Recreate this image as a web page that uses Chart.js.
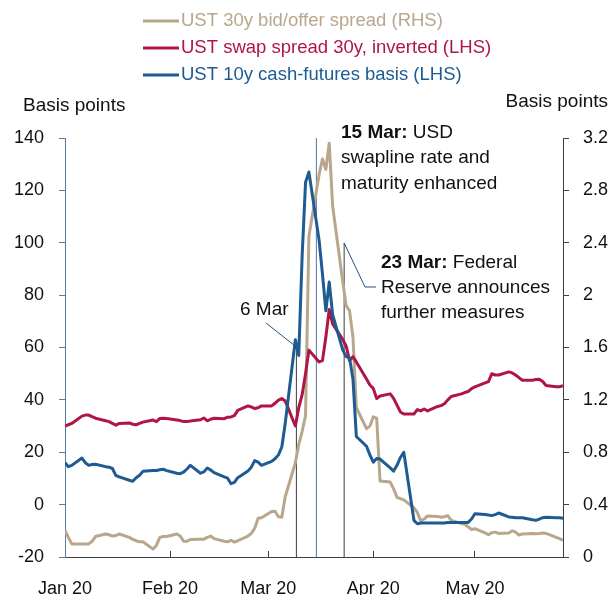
<!DOCTYPE html>
<html>
<head>
<meta charset="utf-8">
<script src="https://cdn.jsdelivr.net/npm/chart.js@4.4.1/dist/chart.umd.min.js"></script>
<style>
  html, body { margin: 0; padding: 0; background: #fff; }
</style>
</head>
<body>
<canvas id="myChart" width="612" height="595"></canvas>
<script>
// day number counted from 1 Jan 2020 (business days)
const days = [
  0, 1, 2, 5, 6, 7, 8, 9, 12, 13, 14, 15, 16, 19, 20, 21, 22, 23, 26, 27, 28, 29, 30,
  33, 34, 35, 36, 37, 40, 41, 42, 43, 44, 47, 48, 49, 50, 51, 54, 55, 56, 57, 58,
  61, 62, 63, 64, 65, 68, 69, 70, 71, 72, 75, 76, 77, 78, 79, 82, 83, 84, 85, 86, 89, 90,
  91, 92, 93, 96, 97, 98, 99, 100, 103, 104, 105, 106, 107, 110, 111, 112, 113, 114, 117, 118, 119, 120,
  121, 124, 125, 126, 127, 128, 131, 132, 133, 134, 135, 138, 139, 140, 141, 142, 145, 146, 147,
];

// UST 30y bid/offer spread (RHS)
const bidOffer = [
  0.2, 0.15, 0.1, 0.1, 0.1, 0.1, 0.12, 0.156, 0.176, 0.17, 0.16, 0.164, 0.176, 0.15, 0.134, 0.124, 0.116, 0.116, 0.06, 0.09, 0.15, 0.156, 0.156,
  0.176, 0.16, 0.12, 0.12, 0.134, 0.136, 0.136, 0.15, 0.16, 0.14, 0.12, 0.116, 0.128, 0.114, 0.124, 0.16, 0.18, 0.22, 0.296, 0.3,
  0.348, 0.35, 0.308, 0.304, 0.46, 0.72, 0.86, 0.96, 1.08, 2.45, 2.92, 3.04, 2.96, 3.16, 2.68, 2.1, 1.92, 1.88, 1.68, 1.14, 0.98, 1.0,
  1.07, 1.06, 0.58, 0.572, 0.52, 0.456, 0.446, 0.436, 0.376, 0.34, 0.276, 0.29, 0.314, 0.31, 0.304, 0.308, 0.316, 0.28, 0.256, 0.25, 0.23, 0.21,
  0.216, 0.184, 0.17, 0.186, 0.19, 0.18, 0.184, 0.2, 0.19, 0.168, 0.176, 0.18, 0.178, 0.18, 0.184, 0.18, 0.15, 0.14, 0.126,
];

// UST swap spread 30y, inverted (LHS)
const swapSpread = [
  30, 30.5, 31, 33.8, 34.2, 34.2, 33.6, 33, 32, 31.7, 31, 30.3, 31, 31.2, 30.7, 30.5, 31, 31.5, 32.3, 31.7, 32.9, 33, 32.9,
  32.3, 32.1, 31.7, 31.7, 31.9, 32.4, 33.1, 32, 32.6, 33, 32.8, 33.4, 33.5, 34, 36, 37.7, 37.3, 36.7, 37, 37.7,
  37.7, 38.7, 39.9, 40.5, 39.6, 30, 37, 42, 50, 59, 54.5, 55, 64, 74.5, 69, 63, 60.5, 55, 56.5, 54.5, 48, 45.7,
  44.4, 40.5, 41.5, 42.3, 40.6, 38, 35.4, 34.6, 34.6, 36.3, 35.8, 36.5, 35.8, 37.5, 37.8, 38.5, 40, 41.3, 42.3, 42.8, 43.2, 44.3,
  45, 46.5, 47, 50, 49.5, 49.5, 50.7, 50.3, 49.5, 48.5, 47.5, 47.5, 47.8, 47.9, 47, 45.5, 45, 45, 45.4,
];

// UST 10y cash-futures basis (LHS)
const cashFutures = [
  16, 14.5, 15, 17.8, 16, 15, 15.3, 15.4, 14.5, 14.3, 13.8, 11.2, 10.6, 9.3, 8.9, 10.3, 11.2, 12.7, 13, 13, 13.3, 13.5, 13,
  12, 11.8, 12.4, 13.6, 15, 12, 12.5, 14, 13.2, 12.2, 10.6, 10.1, 8, 8.5, 10.3, 12.8, 14.3, 16.8, 16.2, 15,
  16.5, 17.5, 19, 22, 31, 63, 57, 95, 123, 127, 101, 88, 74, 85, 72.5, 59, 56.5, 56, 48, 26, 22.3, 19,
  16.2, 17.6, 17.4, 14, 12.8, 15, 18, 20, -6, -7.3, -7, -7, -7, -7, -7, -7, -6.8, -6.8, -6.8, -6.8, -6.8, -5.5,
  -3.5, -3.8, -4, -4.2, -3.8, -3.2, -4.7, -4.8, -5, -5, -5, -5.8, -6, -5.5, -5, -4.8, -5, -5, -5.2,
];

const monthTicks = [0, 31, 60, 91, 121];
const monthLabels = ["Jan 20", "Feb 20", "Mar 20", "Apr 20", "May 20"];

// 6 Mar, 15 Mar, 23 Mar event lines (day numbers as placed on the chart)
const eventDays = [68.3, 74.2, 82.4];

const font = "'Liberation Sans', Arial, sans-serif";
const tanColor = "#b9a68c";
const redColor = "#b01645";
const blueColor = "#1d5b92";

const toPoints = (vals) => vals.map((v, i) => ({ x: days[i], y: v }));

const overlay = {
  id: "overlay",
  beforeDatasetsDraw(chart) {
    const ctx = chart.ctx;
    const xs = chart.scales.x;
    const area = chart.chartArea;
    const x6 = xs.getPixelForValue(eventDays[0]);
    const x15 = xs.getPixelForValue(eventDays[1]);
    const x23 = xs.getPixelForValue(eventDays[2]);
    ctx.save();
    ctx.lineWidth = 1;
    // 6 Mar
    ctx.strokeStyle = "#3c3c3c";
    ctx.beginPath();
    ctx.moveTo(x6, 347);
    ctx.lineTo(x6, area.bottom);
    ctx.stroke();
    // 15 Mar
    ctx.strokeStyle = "#5577a0";
    ctx.beginPath();
    ctx.moveTo(x15, area.top);
    ctx.lineTo(x15, area.bottom);
    ctx.stroke();
    // 23 Mar
    ctx.strokeStyle = "#3c3c3c";
    ctx.beginPath();
    ctx.moveTo(x23, 243);
    ctx.lineTo(x23, area.bottom);
    ctx.stroke();
    ctx.restore();
  },
  afterDraw(chart) {
    const ctx = chart.ctx;
    const xs = chart.scales.x;
    const x6 = xs.getPixelForValue(eventDays[0]);
    const x23 = xs.getPixelForValue(eventDays[2]);
    ctx.save();

    // legend
    const items = [
      ["UST 30y bid/offer spread (RHS)", tanColor, 21],
      ["UST swap spread 30y, inverted (LHS)", redColor, 48],
      ["UST 10y cash-futures basis (LHS)", blueColor, 75],
    ];
    ctx.font = "18.5px " + font;
    ctx.textBaseline = "middle";
    items.forEach(([txt, col, y]) => {
      ctx.strokeStyle = col;
      ctx.lineWidth = 3;
      ctx.beginPath();
      ctx.moveTo(143, y);
      ctx.lineTo(179, y);
      ctx.stroke();
      ctx.fillStyle = col;
      ctx.fillText(txt, 181, y);
    });

    // axis titles
    ctx.fillStyle = "#111";
    ctx.font = "19px " + font;
    ctx.fillText("Basis points", 23, 106);
    ctx.textAlign = "right";
    ctx.fillText("Basis points", 608, 102);
    ctx.textAlign = "left";

    // annotations
    const mixed = (bold, rest, x, y) => {
      ctx.font = "bold 19px " + font;
      ctx.fillText(bold, x, y);
      const w = ctx.measureText(bold).width;
      ctx.font = "19px " + font;
      ctx.fillText(rest, x + w, y);
    };
    mixed("15 Mar:", " USD", 341, 133);
    ctx.fillText("swapline rate and", 341, 158);
    ctx.fillText("maturity enhanced", 341, 184);
    mixed("23 Mar:", " Federal", 381, 263);
    ctx.fillText("Reserve announces", 381, 288);
    ctx.fillText("further measures", 381, 313);
    ctx.fillText("6 Mar", 240, 310);

    // leader lines
    ctx.strokeStyle = "#24507e";
    ctx.lineWidth = 1;
    ctx.beginPath();
    ctx.moveTo(266, 323);
    ctx.lineTo(x6, 347);
    ctx.stroke();
    ctx.beginPath();
    ctx.moveTo(x23, 243);
    ctx.lineTo(365, 287);
    ctx.lineTo(376, 287);
    ctx.stroke();
    ctx.restore();
  },
};

const myChart1 = document.getElementById("myChart");

var myChart = new Chart(myChart1, {
  type: "line",
  data: {
    datasets: [
      {
        label: "UST 30y bid/offer spread (RHS)",
        data: toPoints(bidOffer),
        yAxisID: "y1",
        borderColor: tanColor,
        borderWidth: 3,
        order: 3,
      },
      {
        label: "UST swap spread 30y, inverted (LHS)",
        data: toPoints(swapSpread),
        yAxisID: "y",
        borderColor: redColor,
        borderWidth: 3,
        order: 2,
      },
      {
        label: "UST 10y cash-futures basis (LHS)",
        data: toPoints(cashFutures),
        yAxisID: "y",
        borderColor: blueColor,
        borderWidth: 3,
        order: 1,
      },
    ],
  },
  options: {
    responsive: false,
    animation: false,
    devicePixelRatio: 1,
    events: [],
    elements: {
      point: { radius: 0 },
      line: { tension: 0, borderJoinStyle: "round" },
    },
    layout: { padding: { top: 138, left: 0, right: 0, bottom: 0 } },
    plugins: {
      legend: { display: false },
      tooltip: { enabled: false },
    },
    scales: {
      x: {
        type: "linear",
        min: 0,
        max: 147,
        afterBuildTicks: (scale) => {
          scale.ticks = monthTicks.map((v) => ({ value: v }));
        },
        afterFit: (scale) => {
          scale.height = 38;
        },
        ticks: {
          autoSkip: false,
          maxRotation: 0,
          padding: 27,
          color: "#111",
          font: { family: font, size: 18 },
          callback: (v, i) => monthLabels[i],
        },
        grid: { drawOnChartArea: false, tickLength: -6, color: "#404040" },
        border: { color: "#404040", width: 1 },
      },
      y: {
        position: "left",
        min: -20,
        max: 140,
        afterFit: (scale) => {
          scale.width = 65;
        },
        ticks: {
          stepSize: 20,
          padding: 15,
          color: "#111",
          font: { family: font, size: 18 },
        },
        grid: { drawOnChartArea: false, tickLength: 6, color: "#5a7ca3" },
        border: { color: "#5a7ca3", width: 1 },
      },
      y1: {
        position: "right",
        min: 0,
        max: 3.2,
        afterFit: (scale) => {
          scale.width = 49;
        },
        ticks: {
          stepSize: 0.4,
          padding: 14,
          color: "#111",
          font: { family: font, size: 18 },
          callback: (v) => String(Math.round(v * 10) / 10),
        },
        grid: { drawOnChartArea: false, tickLength: 6, color: "#404040" },
        border: { color: "#404040", width: 1 },
      },
    },
  },
  plugins: [overlay],
});
</script>
</body>
</html>
